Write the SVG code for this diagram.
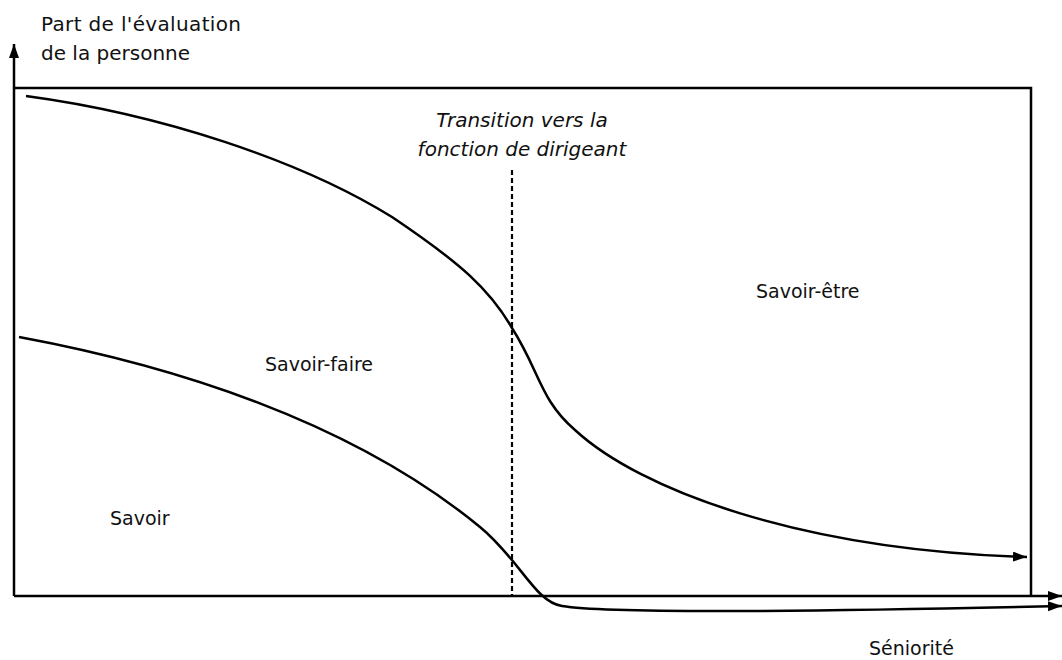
<svg xmlns="http://www.w3.org/2000/svg" width="1062" height="660" viewBox="0 0 1062 660">
  <style>
    .lbl { font-family: "DejaVu Sans", "Liberation Sans", sans-serif; font-size: 19px; fill: #111; }
    .big { font-size: 20px; }
    .it { font-style: italic; }
    .ln { fill: none; stroke: #000; stroke-width: 2.5; }
  </style>
  <defs>
    <marker id="arrow" markerUnits="userSpaceOnUse" markerWidth="16" markerHeight="12" refX="14" refY="5" orient="auto">
      <path d="M0,0 L14,5 L0,10 Z" fill="#000"/>
    </marker>
  </defs>
  <rect width="1062" height="660" fill="#fff"/>

  <!-- frame and axes -->
  <g id="frame">
    <polyline class="ln" points="14,88 1031,88 1031,596"/>
    <line class="ln" x1="14" y1="596" x2="14" y2="44" marker-end="url(#arrow)"/>
    <line class="ln" x1="14" y1="596" x2="1062" y2="596" marker-end="url(#arrow)"/>
  </g>

  <!-- transition marker -->
  <g id="transition">
    <line x1="512" y1="170" x2="512" y2="595" stroke="#000" stroke-width="2.2" stroke-dasharray="5,3"/>
    <text class="lbl big it" x="522" y="127" text-anchor="middle">Transition vers la</text>
    <text class="lbl big it" x="522" y="156" text-anchor="middle">fonction de dirigeant</text>
  </g>

  <!-- curves -->
  <g id="connectors">
    <path class="ln" d="M26,96 C160,114 300,160 392,217 C462,264 490,290 512,328 C540,372 540,400 575,430 C640,490 800,550 1027,557" marker-end="url(#arrow)"/>
    <path class="ln" d="M19,337 C170,365 350,420 480,527 C520,560 535,602 562,606 C610,614 800,612 1062,606" marker-end="url(#arrow)"/>
  </g>

  <!-- labels -->
  <g id="axis-y-label">
    <text class="lbl big" x="41" y="31" textLength="200" lengthAdjust="spacing">Part de l'évaluation</text>
    <text class="lbl big" x="41" y="60">de la personne</text>
  </g>
  <g id="axis-x-label">
    <text class="lbl" x="869" y="655">Séniorité</text>
  </g>
  <g id="savoir-etre">
    <text class="lbl" x="756" y="298">Savoir-être</text>
  </g>
  <g id="savoir-faire">
    <text class="lbl" x="265" y="371">Savoir-faire</text>
  </g>
  <g id="savoir">
    <text class="lbl" x="110" y="525">Savoir</text>
  </g>
</svg>
